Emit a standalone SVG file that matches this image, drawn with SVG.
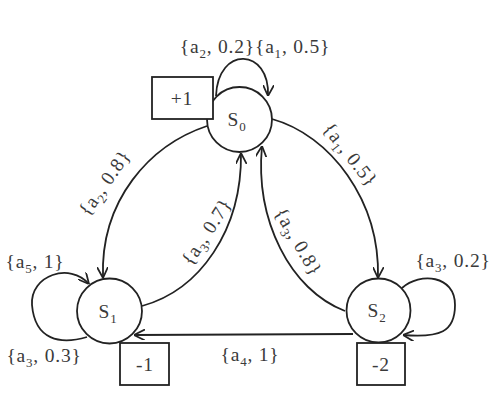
<svg xmlns="http://www.w3.org/2000/svg" width="500" height="411" viewBox="0 0 500 411">
<defs>
<marker id="arr" viewBox="0 0 10 10" refX="10" refY="5" markerWidth="11" markerHeight="11" markerUnits="userSpaceOnUse" orient="auto">
<path d="M0,0 L10,5 L0,10" fill="none" stroke="#222" stroke-width="1.6"/>
</marker>
<style>
.n{fill:#fff;stroke:#222;stroke-width:1.8}
.e{fill:none;stroke:#222;stroke-width:1.8;marker-end:url(#arr)}
.t{font-family:"Liberation Serif","Times New Roman",serif;font-size:19.5px;letter-spacing:0.8px;fill:#3a3a3a;text-anchor:middle}
.s{font-size:13px}
</style>
</defs>
<g id="connectors">
<path class="e" d="M216,96 C218,45 270,48 268,96"/>
<path class="e" d="M207,126 C150,145 100,200 103,278"/>
<path class="e" d="M142,306 C200,290 242,230 241,153"/>
<path class="e" d="M345,311 C290,290 255,220 262,146"/>
<path class="e" d="M272,119 C330,135 380,200 378,278"/>
<path class="e" d="M353,334 L134,335"/>
<path class="e" d="M87,337 C60,345 35,340 32,305 C30,275 70,262 89,284"/>
<path class="e" d="M402,288 C420,272 455,275 455,305 C455,332 440,338 403,335"/>
</g>
<g id="labels">
<text class="t" x="255" y="53">{a<tspan class="s" dy="5">2</tspan><tspan dy="-5">, 0.2}{a</tspan><tspan class="s" dy="5">1</tspan><tspan dy="-5">, 0.5}</tspan></text>
<text class="t" x="105" y="189" transform="rotate(-55 105 183)">{a<tspan class="s" dy="5">2</tspan><tspan dy="-5">, 0.8}</tspan></text>
<text class="t" x="207" y="238" transform="rotate(-57 207 232)">{a<tspan class="s" dy="5">3</tspan><tspan dy="-5">, 0.7}</tspan></text>
<text class="t" x="350" y="161" transform="rotate(52 350 155)">{a<tspan class="s" dy="5">1</tspan><tspan dy="-5">, 0.5}</tspan></text>
<text class="t" x="298" y="248" transform="rotate(60 298 242)">{a<tspan class="s" dy="5">3</tspan><tspan dy="-5">, 0.8}</tspan></text>
<text class="t" x="35" y="268">{a<tspan class="s" dy="5">5</tspan><tspan dy="-5">, 1}</tspan></text>
<text class="t" x="44" y="362">{a<tspan class="s" dy="5">3</tspan><tspan dy="-5">, 0.3}</tspan></text>
<text class="t" x="250" y="361">{a<tspan class="s" dy="5">4</tspan><tspan dy="-5">, 1}</tspan></text>
<text class="t" x="453" y="267">{a<tspan class="s" dy="5">3</tspan><tspan dy="-5">, 0.2}</tspan></text>
</g>
<g id="S0">
<circle class="n" cx="239.5" cy="119.5" r="32.5"/>
<text class="t" x="237" y="126">S<tspan class="s" dy="5">0</tspan></text>
</g>
<g id="S1">
<circle class="n" cx="109.5" cy="311" r="32.5"/>
<text class="t" x="108" y="318">S<tspan class="s" dy="5">1</tspan></text>
</g>
<g id="S2">
<circle class="n" cx="378.5" cy="310.5" r="32"/>
<text class="t" x="377" y="317">S<tspan class="s" dy="5">2</tspan></text>
</g>
<g id="R0">
<rect class="n" x="152" y="77" width="61" height="42"/>
<text class="t" x="182" y="105">+1</text>
</g>
<g id="R1">
<rect class="n" x="120" y="343" width="49" height="42"/>
<text class="t" x="145" y="371">-1</text>
</g>
<g id="R2">
<rect class="n" x="357" y="343" width="48" height="42"/>
<text class="t" x="381" y="371">-2</text>
</g>
</svg>
